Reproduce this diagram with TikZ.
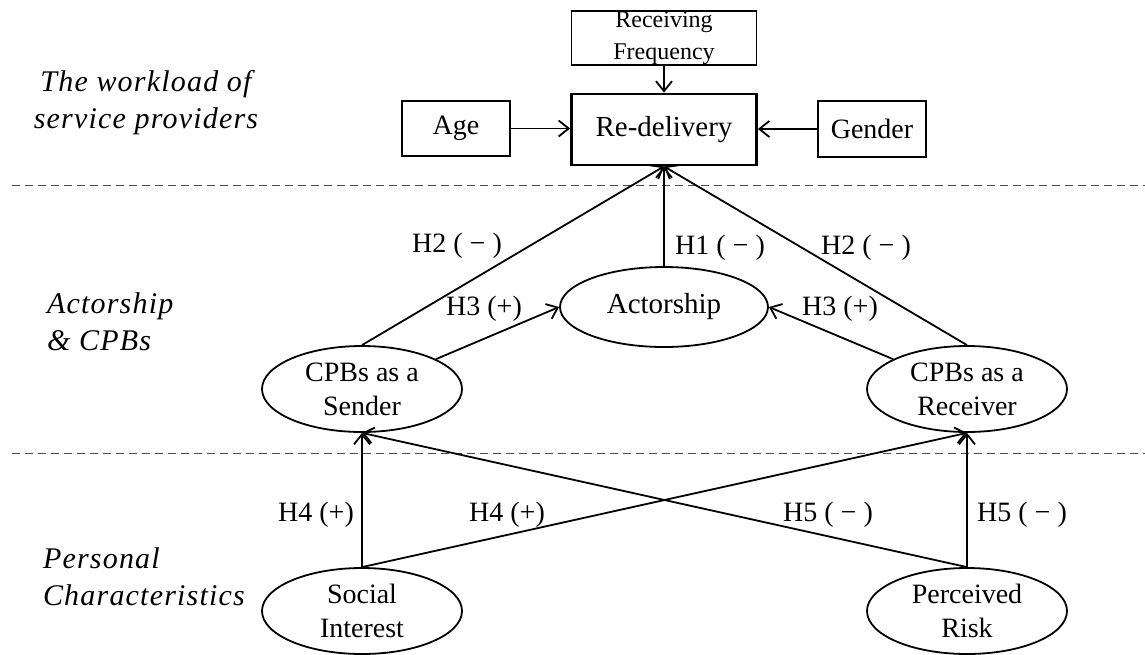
\documentclass[tikz,border=0pt]{standalone}
\usepackage{fontspec}
\setmainfont{Liberation Serif}
\usepackage{tikz}
\usetikzlibrary{positioning}
\usetikzlibrary{arrows.meta, shapes}

\begin{document}
\begin{tikzpicture}[x=0.5pt, y=-0.5pt,
    box/.style={draw, line width=0.8pt, inner sep=0pt, font=\fontsize{14}{16}\selectfont},
    oval/.style={ellipse, draw, line width=0.9pt, inner sep=0pt, align=center, minimum width=100pt, minimum height=43pt, font=\fontsize{14}{17}\selectfont},
    hyp/.style={font=\fontsize{14}{16}\selectfont},
    layer/.style={align=left, font=\fontsize{15}{18.5}\selectfont\itshape\addfontfeature{LetterSpace=4}},
    link/.style={line width=0.9pt, -{Straight Barb[length=5pt,width=8pt]}},
    sep/.style={dash pattern=on 4pt off 2.5pt, line width=0.5pt, draw=black!70}]
    \useasboundingbox (0,0) rectangle (1145,654);

    % Tầng trên: khối lượng công việc
    \node[box, minimum width=92.5pt, minimum height=27pt] (freq) at (664,38) {};
    \node[align=center, inner sep=0pt, font=\fontsize{12}{16}\selectfont] (freqtxt) at (664,38.5) {Receiving\\Frequency}; % chữ đè lên cạnh dưới
    \node[box, line width=1.4pt, minimum width=92.5pt, minimum height=35.5pt, font=\fontsize{14.5}{17}\selectfont] (redel) at (664,129.5) {Re-delivery};
    \node[box, minimum width=54pt, minimum height=27.5pt] (age) at (456,128.5) {Age}; % biến kiểm soát
    \node[box, minimum width=54pt, minimum height=28pt] (gender) at (872,129) {Gender}; % biến kiểm soát
    \draw[link] (freq.south) -- (redel.north);
    \draw[link] (age.east) -- (age.east -| redel.west);
    \draw[link] (gender.west) -- (gender.west -| redel.east);

    % Đường phân tầng nét đứt
    \draw[sep] (12,185) -- (1145,185);
    \draw[sep] (12,453) -- (1145,453);

    % Tầng giữa: Actorship & CPBs
    \node[oval, minimum width=104pt, minimum height=40pt, font=\fontsize{14.5}{17}\selectfont] (actor) at (664,307) {Actorship};
    \node[oval] (sender) at (362,389) {CPBs as a\\Sender};
    \node[oval] (receiver) at (967,389) {CPBs as a\\Receiver};
    \draw[link] (sender.north) -- (redel.south);
    \draw[link] (actor.north) -- (redel.south);
    \draw[link] (receiver.north) -- (redel.south);
    \draw[link] (sender.22) -- (actor.west);
    \draw[link] (receiver.158) -- (actor.east);

    % Tầng dưới: đặc điểm cá nhân
    \node[oval] (social) at (362,611) {Social\\Interest};
    \node[oval] (risk) at (967,611) {Perceived\\Risk};
    \draw[link] (social.north) -- (sender.south);
    \draw[link] (social.north) -- (receiver.south);
    \draw[link] (risk.north) -- (sender.south);
    \draw[link] (risk.north) -- (receiver.south);

    % Nhãn giả thuyết
    \node[hyp] (h2l) at (457,246) {H2 ( − )};
    \node[hyp] (h1) at (720,248) {H1 ( − )};
    \node[hyp] (h2r) at (866,248) {H2 ( − )};
    \node[hyp] (h3l) at (484,309) {H3 (+)};
    \node[hyp] (h3r) at (840,309) {H3 (+)};
    \node[hyp] (h4l) at (316,515) {H4 (+)};
    \node[hyp] (h4m) at (507,515) {H4 (+)};
    \node[hyp] (h5m) at (828,515) {H5 ( − )};
    \node[hyp] (h5r) at (1022,515) {H5 ( − )};

    % Tên các tầng bên trái
    \node[layer, align=center] (lworkload) at (146,103) {The workload of\\service providers};
    \node[layer, anchor=west] (lactor) at (40,322) {Actorship\\\& CPBs};
    \node[layer, anchor=west] (lpersonal) at (36,577) {Personal\\Characteristics};
\end{tikzpicture}
\end{document}
